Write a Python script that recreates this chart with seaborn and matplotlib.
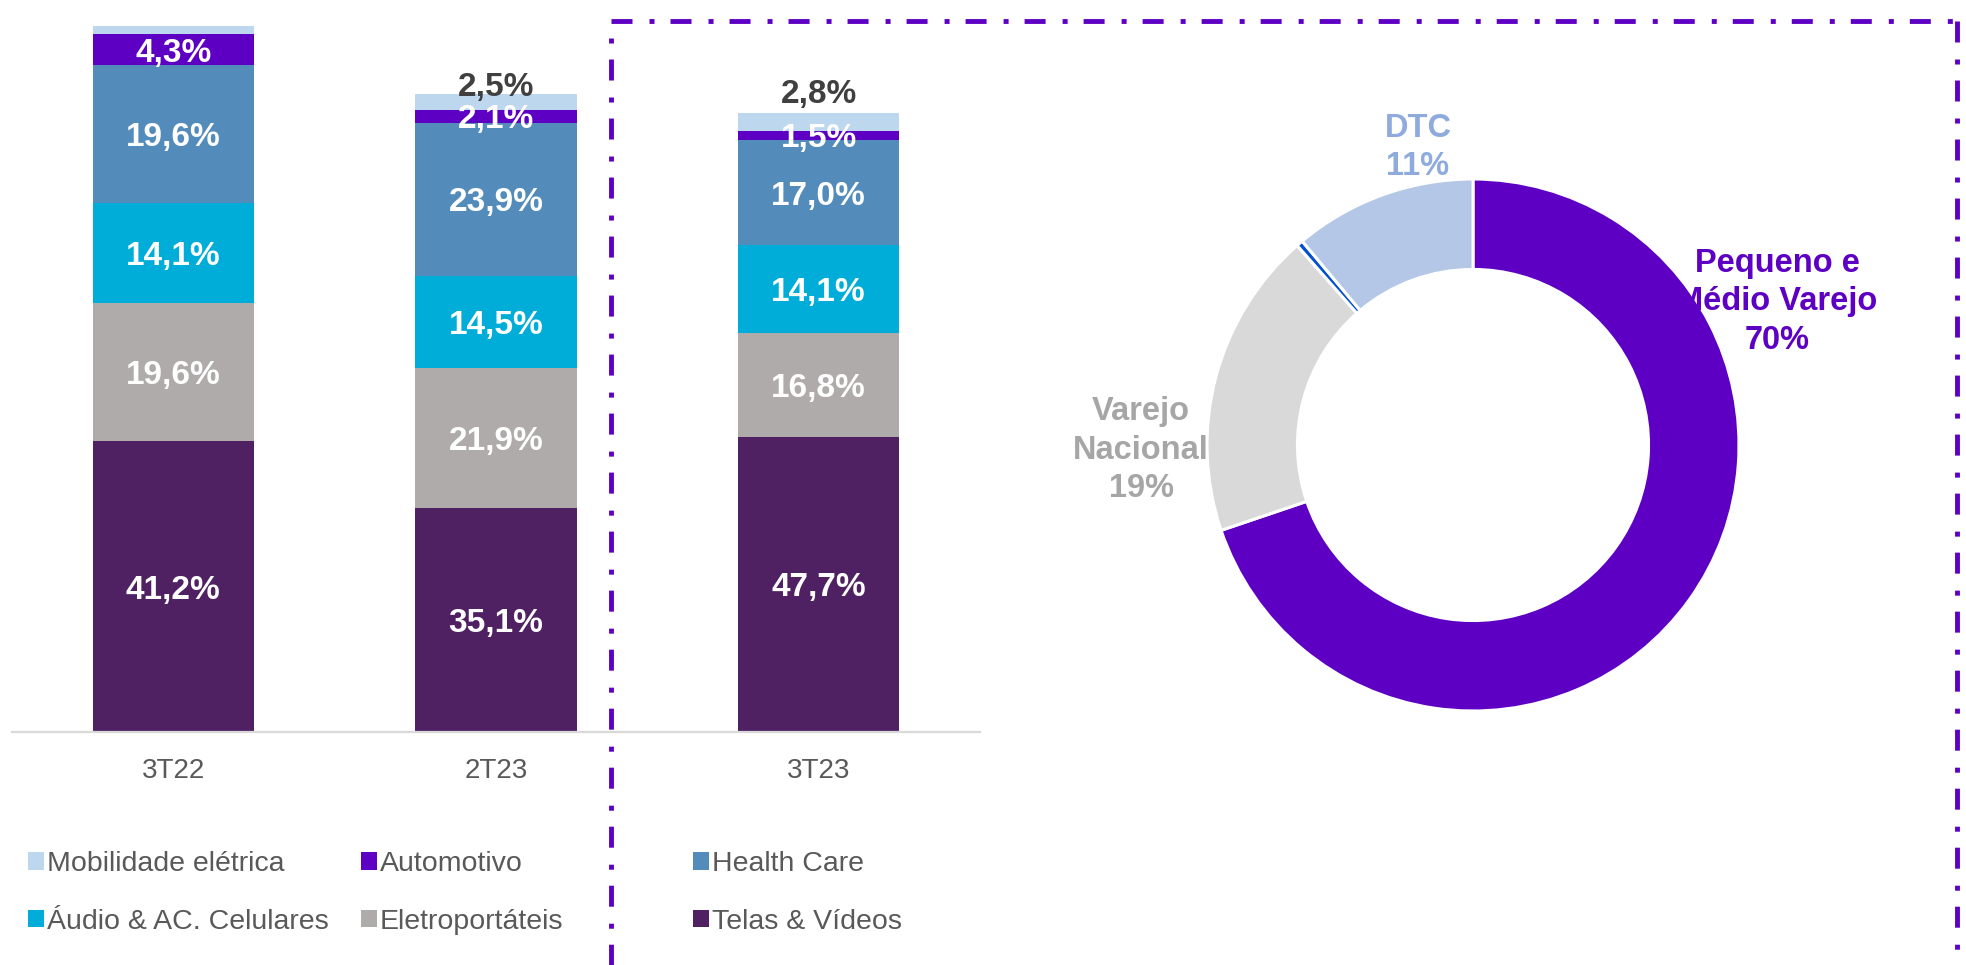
import numpy as np
import pandas as pd
import matplotlib
matplotlib.use("Agg")
import matplotlib.pyplot as plt
import seaborn as sns
from matplotlib.lines import Line2D
from matplotlib.patches import Patch

# ---------------- data ----------------
periods = ["3T22", "2T23", "3T23"]
revenue_index = [100.0, 90.4, 87.7]          # relative bar totals (3T22 = 100)

series_names = ["Telas & Vídeos", "Eletroportáteis", "Áudio & AC. Celulares",
                "Health Care", "Automotivo", "Mobilidade elétrica"]
telas = [41.2, 35.1, 47.7]
eletro = [19.6, 21.9, 16.8]
audio = [14.1, 14.5, 14.1]
health = [19.6, 23.9, 17.0]
auto = [4.3, 2.1, 1.5]
mobil = [1.2, 2.5, 2.8]
mobil_label_shown = [False, True, True]

channels = ["Pequeno e\nMédio Varejo", "Varejo\nNacional", "Outros", "DTC"]
channel_share = [69.8, 18.7, 0.4, 11.1]
channel_labels = ["70%", "19%", "", "11%"]

# ---------------- style ----------------
series_colors = ["#4F2163", "#AFABAB", "#00ADD9", "#538CBA", "#5D00C4", "#BDD7EE"]
pie_colors = ["#5D00C4", "#D9D9D9", "#0050D0", "#B4C7E7"]
pie_text_colors = ["#5D00C4", "#A6A6A6", None, "#8FAADC"]
pie_label_pos = [(1.143, 0.538), (-1.248, -0.019), None, (-0.207, 1.118)]
mobil_label_offset = [0, 7, 16.5]   # points above bar top

sns.set_theme(style="white")
plt.rcParams["font.family"] = ["Liberation Sans", "DejaVu Sans"]

W, H = 1966, 965
fig = plt.figure(figsize=(W / 100, H / 100), dpi=100)

# ---------------- stacked bars ----------------
ax = fig.add_axes([12 / W, 1 - 732 / H, 968 / W, 732 / H])
pct = np.array([telas, eletro, audio, health, auto, mobil])
tot = np.array(revenue_index)
vals = pct / 100.0 * tot
cum = np.cumsum(vals, axis=0)
bottoms = cum - vals

for i in range(len(series_names) - 1, -1, -1):
    df = pd.DataFrame({"period": periods, "value": cum[i]})
    sns.barplot(data=df, x="period", y="value", color=series_colors[i],
                saturation=1, width=0.5, errorbar=None, ax=ax,
                edgecolor="none", linewidth=0)

ax.set_xlim(-0.5, 2.5)
ax.set_ylim(0, 100 * 732 / 706)
ax.set_xlabel("")
ax.set_ylabel("")
ax.set_yticks([])
ax.tick_params(axis="x", length=0, pad=19, labelsize=20, labelcolor="#595959")
sns.despine(ax=ax, left=True)
ax.spines["bottom"].set_color("#D9D9D9")
ax.spines["bottom"].set_linewidth(1.6)

for j in range(len(periods)):
    for i in range(5):
        ax.text(j, bottoms[i, j] + vals[i, j] / 2,
                f"{pct[i, j]:.1f}%".replace(".", ","),
                ha="center", va="center_baseline", color="white",
                fontsize=24, fontweight="bold")
    if mobil_label_shown[j]:
        ax.annotate(f"{pct[5, j]:.1f}%".replace(".", ","),
                    xy=(j, cum[5, j]), xytext=(0, mobil_label_offset[j]),
                    textcoords="offset points",
                    ha="center", va="center_baseline", color="#404040",
                    fontsize=24, fontweight="bold")

# ---------------- legend (3 columns x 2 rows) ----------------
order = [5, 4, 3, 2, 1, 0]
col_x = [28, 361, 693]
for c in range(3):
    idx = [order[c], order[c + 3]]
    handles = [Patch(facecolor=series_colors[k], edgecolor="none") for k in idx]
    labels = [series_names[k] for k in idx]
    fig.legend(handles, labels, loc="center left",
               bbox_to_anchor=(col_x[c] / W, 1 - 893 / H),
               frameon=False, fontsize=20.5, labelcolor="#595959",
               handlelength=0.55, handleheight=0.55, handletextpad=0.12,
               labelspacing=1.12, borderpad=0, borderaxespad=0)

# ---------------- donut ----------------
R = 266
k = 1.1
axp = fig.add_axes([(1473 - R * k) / W, 1 - (445 + R * k) / H, 2 * R * k / W, 2 * R * k / H])
axp.pie(channel_share, colors=pie_colors, startangle=90, counterclock=False,
        radius=1, wedgeprops=dict(width=0.34, edgecolor="white", linewidth=2.2))
axp.set_xlim(-k, k)
axp.set_ylim(-k, k)
axp.set_aspect("equal")
axp.axis("off")
for name, lab, col, pos in zip(channels, channel_labels, pie_text_colors, pie_label_pos):
    if not lab:
        continue
    axp.text(pos[0], pos[1], f"{name}\n{lab}", ha="center", va="center",
             color=col, fontsize=23.5, fontweight="bold", linespacing=1.32)

# ---------------- dash-dot frame ----------------
frame_color = "#5D00C4"
fx0, fx1, fy0, fyb = 611, 1957, 21, 1030
dash = (4.32, 3.5, 1.03, 3.29)
frame_lines = [
    ([fx0, fx1], [fy0, fy0], 0.0),      # top: long dash starts at left corner
    ([fx0, fx0], [fy0, fyb], 4.32),     # left: starts with gap below corner
    ([fx1, fx1], [fy0, fyb], 0.0),      # right: long dash from corner
]
for px, py, off in frame_lines:
    fig.add_artist(Line2D(np.array(px) / W, 1 - np.array(py) / H,
                          transform=fig.transFigure, color=frame_color,
                          lw=3.5, linestyle=(off, dash), dash_capstyle="butt"))

fig.savefig("out.png", dpi=100)
